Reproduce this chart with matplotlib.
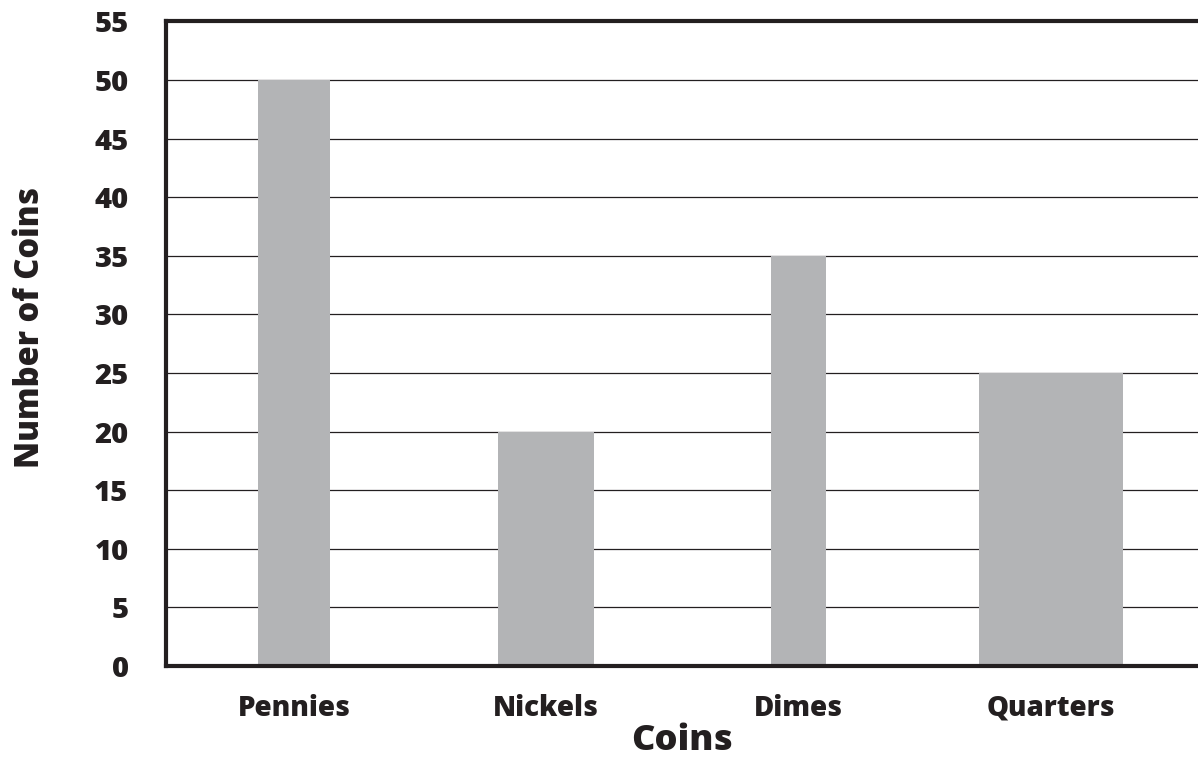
import matplotlib.pyplot as plt
import numpy as np

# data
coins = ['Pennies', 'Nickels', 'Dimes', 'Quarters']
counts = [50, 20, 35, 25]
bar_widths = [0.285, 0.38, 0.218, 0.571]
y_ticks = list(range(0, 60, 5))

ink = '#231f20'
bar_color = '#b3b4b6'
font = 'Open Sans'

fig = plt.figure(figsize=(11.98, 7.62), dpi=100)
ax = fig.add_axes([0.1386, 0.126, 0.8614, 0.846])

x = np.arange(len(coins))
ax.bar(x, counts, width=bar_widths, color=bar_color, zorder=3)

ax.set_xlim(-0.507, 3.583)
ax.set_ylim(0, 55)
ax.set_yticks(y_ticks)
ax.set_xticks(x)
ax.set_xticklabels(coins)

# horizontal grid lines, drawn under the bars
ax.grid(axis='y', color=ink, linewidth=0.9, zorder=1)
ax.grid(axis='x', visible=False)

for side in ['left', 'bottom', 'top']:
    ax.spines[side].set_linewidth(3)
    ax.spines[side].set_color(ink)
    ax.spines[side].set_zorder(4)
ax.spines['right'].set_visible(False)

ax.tick_params(axis='both', length=0, colors=ink)
ax.tick_params(axis='y', pad=27)
ax.tick_params(axis='x', pad=20)
for lab in ax.get_yticklabels():
    lab.set_fontfamily(font)
    lab.set_fontweight('heavy')
    lab.set_fontsize(21)
    lab.set_color(ink)
for lab in ax.get_xticklabels():
    lab.set_fontfamily(font)
    lab.set_fontweight('heavy')
    lab.set_fontsize(20)
    lab.set_color(ink)

ax.set_xlabel('Coins', fontfamily=font, fontweight='heavy', fontsize=26,
              color=ink, labelpad=0)
ax.set_ylabel('Number of Coins', fontfamily=font, fontweight='heavy',
              fontsize=23.5, color=ink, labelpad=34, y=0.525)

fig.savefig('out.png', dpi=100)
